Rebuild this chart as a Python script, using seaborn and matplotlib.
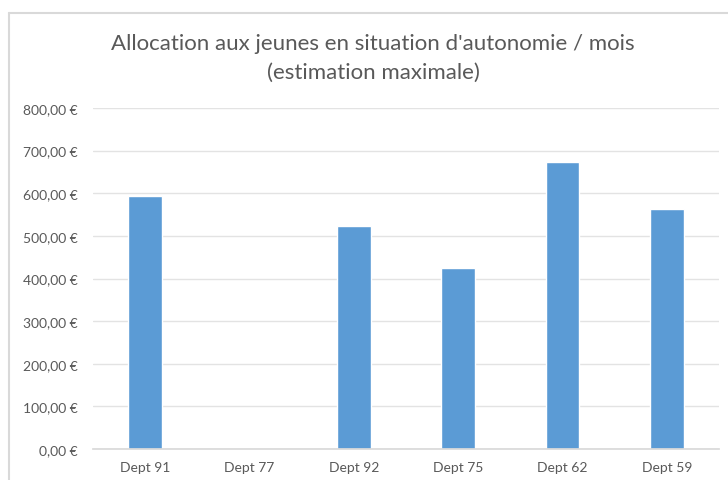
import numpy as np
import pandas as pd
import matplotlib
matplotlib.use("Agg")
import matplotlib.pyplot as plt
import seaborn as sns
from matplotlib.lines import Line2D

# valeurs
departements = ["Dept 91", "Dept 77", "Dept 92", "Dept 75", "Dept 62", "Dept 59"]
allocation = [594, 0, 522, 424, 673, 562]
graduations = [0, 100, 200, 300, 400, 500, 600, 700, 800]

df = pd.DataFrame({"dept": departements, "montant": allocation})

sns.set_theme(style="white")
plt.rcParams["font.family"] = ["Lato", "DejaVu Sans"]

gris = "#595959"
fig = plt.figure(figsize=(7.28, 4.81), dpi=100)
ax = fig.add_axes([93 / 728, 31 / 481, (719 - 93) / 728, (450 - 109) / 481])

sns.barplot(data=df, x="dept", y="montant", color="#5B9BD5", width=0.32,
            saturation=1, ax=ax)

ax.set_ylim(0, 800)
ax.set_yticks(graduations)
ax.set_yticklabels([f"{v:,.2f} €".replace(".", ",") for v in graduations])
ax.set_xlabel("")
ax.set_ylabel("")
ax.grid(axis="y", color="#e3e3e3", linewidth=1)
ax.set_axisbelow(True)
for s in ["top", "right", "left"]:
    ax.spines[s].set_visible(False)
ax.spines["bottom"].set_color("#d9d9d9")
ax.tick_params(axis="both", length=0, labelsize=10, labelcolor=gris)
ax.tick_params(axis="y", pad=11)
ax.tick_params(axis="x", pad=9)

fig.text(373 / 728, 1 - 44 / 481, "Allocation aux jeunes en situation d'autonomie / mois",
         ha="center", va="center", fontsize=16, color=gris)
fig.text(373 / 728, 1 - 73 / 481, "(estimation maximale)",
         ha="center", va="center", fontsize=16, color=gris)

# cadre du graphique (bord gauche et haut)
fig.add_artist(Line2D([9 / 728, 9 / 728], [0, 1 - 14 / 481], transform=fig.transFigure,
                      color="#d9d9d9", linewidth=1.5))
fig.add_artist(Line2D([9 / 728, 1], [1 - 14 / 481, 1 - 14 / 481], transform=fig.transFigure,
                      color="#d9d9d9", linewidth=1.5))

fig.savefig("out.png", dpi=100)
